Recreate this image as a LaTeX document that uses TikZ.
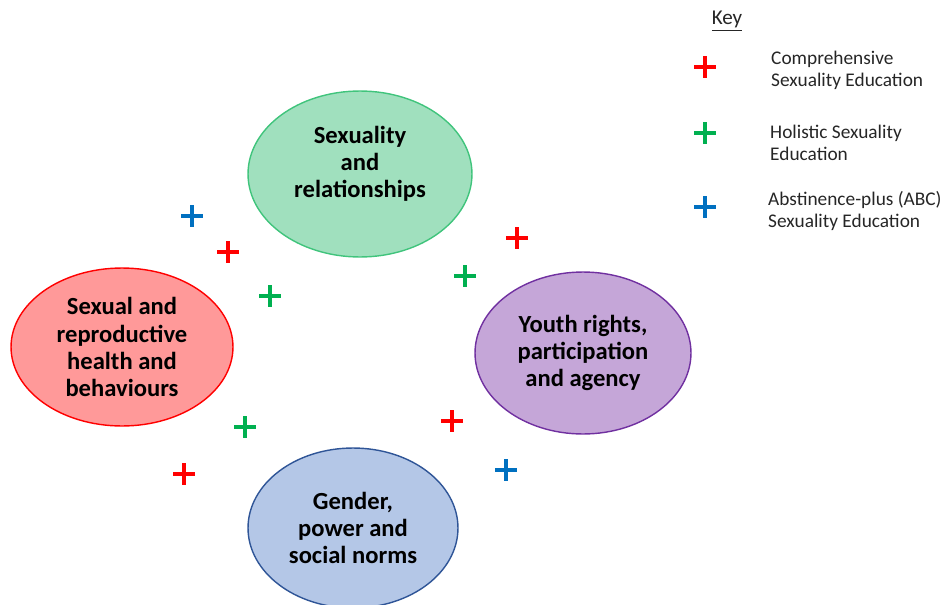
\documentclass[tikz,border=0pt]{standalone}
\usepackage{fontspec}
\setmainfont{Carlito}
\usetikzlibrary{shapes.geometric}
\definecolor{csered}{HTML}{FF0000}
\definecolor{hsegreen}{HTML}{00B050}
\definecolor{abcblue}{HTML}{0070C0}
\tikzset{
  plus/.style={minimum size=0.44cm,inner sep=0pt,
    path picture={\draw[#1,line width=2.3pt]
      (path picture bounding box.north) -- (path picture bounding box.south)
      (path picture bounding box.west) -- (path picture bounding box.east);}},
  key text/.style={anchor=west,align=left,font=\fontsize{11}{12.5}\selectfont,text=black!85}
}
\begin{document}
\begin{tikzpicture}[x=0.02cm,y=-0.02cm,
    theme/.style={ellipse,line width=0.8pt,align=center,inner sep=0pt,
      font=\fontsize{14}{15.4}\selectfont\bfseries}]
  \useasboundingbox (0,0) rectangle (950,605);
  % themes
  \node[theme,draw=hsegreen!75,fill={rgb,255:red,160;green,224;blue,190},minimum width=4.48cm,minimum height=3.32cm,
    label={[align=center,font=\fontsize{14}{15.4}\selectfont\bfseries,yshift=0.2cm]center:Sexuality\\and\\relationships}] (sex) at (360,174) {};
  \node[theme,draw=csered,fill={rgb,255:red,255;green,153;blue,153},minimum width=4.44cm,minimum height=3.16cm] (srh) at (122,347) {Sexual and\\reproductive\\health and\\behaviours};
  \node[theme,draw={rgb,255:red,112;green,48;blue,160},fill={rgb,255:red,197;green,166;blue,216},minimum width=4.32cm,minimum height=3.24cm] (youth) at (583,353) {Youth rights,\\participation\\and agency};
  \node[theme,draw={rgb,255:red,47;green,85;blue,151},fill={rgb,255:red,180;green,199;blue,231},minimum width=4.2cm,minimum height=3.2cm] (gender) at (353,528) {Gender,\\power and\\social norms};
  % marks between themes
  \node[plus=abcblue] (p1) at (192,216) {};
  \node[plus=csered] (p2) at (228,252) {};
  \node[plus=hsegreen] (p3) at (270,296) {};
  \node[plus=csered] (p4) at (517,238) {};
  \node[plus=hsegreen] (p5) at (465,276) {};
  \node[plus=hsegreen] (p6) at (245,427) {};
  \node[plus=csered] (p7) at (184,474) {};
  \node[plus=csered] (p8) at (452,421) {};
  \node[plus=abcblue] (p9) at (506,470) {};
  % key
  \node[font=\fontsize{12}{14}\selectfont,text=black!85] (key) at (727,21) {\underline{Key}};
  \node[plus=csered] (k1) at (705,67) {};
  \node[plus=hsegreen] (k2) at (705,133) {};
  \node[plus=abcblue] (k3) at (705,207) {};
  \node[key text] (t1) at (765,70) {Comprehensive\\Sexuality Education};
  \node[key text] (t2) at (764,143) {Holistic Sexuality\\Education};
  \node[key text] (t3) at (762,211) {Abstinence-plus (ABC)\\Sexuality Education};
\end{tikzpicture}
\end{document}
